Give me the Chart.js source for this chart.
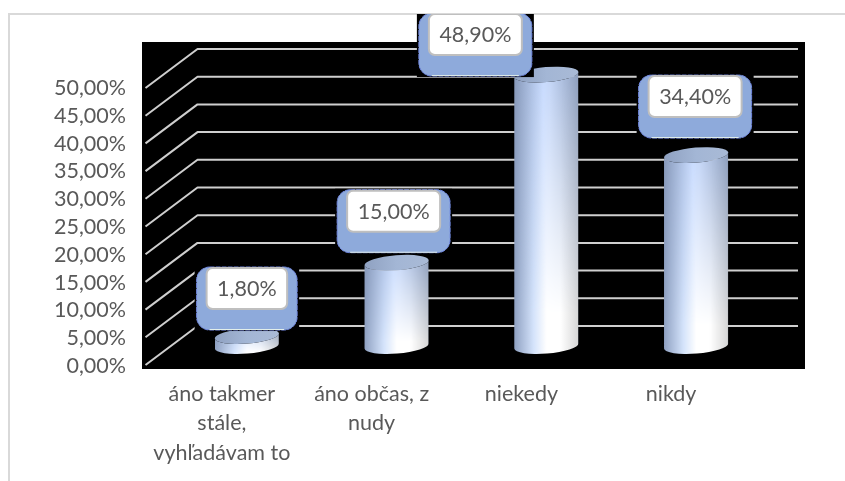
<!DOCTYPE html>
<html>
<head>
<meta charset="utf-8">
<title>Chart</title>
<script src="https://cdn.jsdelivr.net/npm/chart.js@4"></script>
<style>
  html, body { margin: 0; padding: 0; background: #fff; }
  canvas { display: block; }
</style>
</head>
<body>
<canvas id="chart" width="845" height="481"></canvas>
<script>
const categories = [['áno takmer', 'stále,', 'vyhľadávam to'], ['áno občas, z', 'nudy'], 'niekedy', 'nikdy'];
const values = [1.8, 15, 48.9, 34.4];
const tickValues = [0, 5, 10, 15, 20, 25, 30, 35, 40, 45, 50];
const tickLabels = ['0,00%', '5,00%', '10,00%', '15,00%', '20,00%', '25,00%', '30,00%', '35,00%', '40,00%', '45,00%', '50,00%'];

const FONT = 'Lato, "Open Sans", sans-serif';
const TEXT = '#595959';
const GRID = '#cfcfcf';

// callout placement relative to the top of its bar (the source chart moved them by hand)
const calloutDx = [0, -3, -71, -1];
const calloutDy = [-6, -10, 1.5, -17];

function pct(v) { return v.toFixed(2).replace('.', ',') + '%'; }

function roundRect(ctx, x, y, w, h, r) {
  ctx.beginPath();
  ctx.roundRect(x, y, w, h, r);
}

// light from below: dull blue at the top of the bar, white at the bottom
function cylinderFill(w, h) {
  const c = document.createElement('canvas');
  c.width = Math.ceil(w); c.height = Math.ceil(h);
  const g = c.getContext('2d');
  const top = g.createLinearGradient(0, 0, w, 0);
  top.addColorStop(0, '#8799ba');
  top.addColorStop(0.45, '#c6daff');
  top.addColorStop(0.55, '#c2d5f8');
  top.addColorStop(1, '#8a9cbc');
  g.fillStyle = top; g.fillRect(0, 0, w, h);

  const o = document.createElement('canvas');
  o.width = c.width; o.height = c.height;
  const og = o.getContext('2d');
  const bottom = og.createLinearGradient(0, 0, w, 0);
  bottom.addColorStop(0, '#8fa1c2');
  bottom.addColorStop(0.3, '#d4e3fb');
  bottom.addColorStop(0.5, '#ffffff');
  bottom.addColorStop(0.72, '#ffffff');
  bottom.addColorStop(1, '#d6d6d6');
  og.fillStyle = bottom; og.fillRect(0, 0, w, h);
  og.globalCompositeOperation = 'destination-in';
  const mask = og.createLinearGradient(0, 0, 0, h);
  mask.addColorStop(0, 'rgba(0,0,0,0)');
  mask.addColorStop(0.85, 'rgba(0,0,0,1)');
  mask.addColorStop(1, 'rgba(0,0,0,1)');
  og.fillStyle = mask; og.fillRect(0, 0, w, h);
  g.drawImage(o, 0, 0);
  return c;
}

function drawCylinder(ctx, bar) {
  const rx = bar.width / 2, ry = 7.5, rot = -0.08;
  ctx.save();
  ctx.beginPath();
  ctx.ellipse(bar.x, bar.base, rx, ry, rot, 0, Math.PI);
  ctx.ellipse(bar.x, bar.y, rx, ry, rot, Math.PI, 0, true);
  ctx.closePath();
  ctx.clip();
  const top = bar.y - ry - 4;
  ctx.drawImage(cylinderFill(bar.width, bar.base + ry + 4 - top), bar.x - rx, top);
  ctx.restore();

  const lid = ctx.createLinearGradient(bar.x - rx, 0, bar.x + rx, 0);
  lid.addColorStop(0, '#8fa1c1');
  lid.addColorStop(0.5, '#a3b6d5');
  lid.addColorStop(1, '#a9bad6');
  ctx.fillStyle = lid;
  ctx.beginPath();
  ctx.ellipse(bar.x, bar.y, rx, ry, rot, 0, Math.PI * 2);
  ctx.fill();
}

function drawCallout(ctx, bar, text, dx, dy) {
  ctx.save();
  ctx.font = '21.5px ' + FONT;
  const whiteW = ctx.measureText(text).width + 21;
  const cx = bar.x + dx;
  const bottom = bar.y + dy;
  const blueX = cx - whiteW / 2 - 10, blueW = whiteW + 20, blueY = bottom - 63;

  // black box behind the shape hides the gridlines, and is cut at the chart frame
  const boxTop = Math.max(blueY - 1, 14);
  ctx.fillStyle = '#000';
  ctx.fillRect(blueX - 2, boxTop, blueW + 4, bottom + 1 - boxTop);
  ctx.beginPath();
  ctx.rect(blueX - 2, boxTop, blueW + 4, bottom + 1 - boxTop);
  ctx.clip();

  roundRect(ctx, blueX, blueY, blueW, 63, 13);
  ctx.fillStyle = '#8eaadb';
  ctx.fill();
  ctx.strokeStyle = '#7086df';
  ctx.lineWidth = 1;
  ctx.setLineDash([5, 1]);
  ctx.stroke();
  ctx.setLineDash([]);
  ctx.strokeStyle = '#e4f0ea';
  ctx.beginPath();
  ctx.moveTo(blueX + 13, bottom - 0.5);
  ctx.lineTo(blueX + blueW - 13, bottom - 0.5);
  ctx.stroke();

  roundRect(ctx, cx - whiteW / 2, blueY + 1, whiteW, 41, 6);
  ctx.fillStyle = '#fff';
  ctx.fill();
  ctx.strokeStyle = '#bfbfbf';
  ctx.lineWidth = 2;
  ctx.stroke();

  ctx.fillStyle = TEXT;
  ctx.textAlign = 'center';
  ctx.textBaseline = 'middle';
  ctx.fillText(text, cx, blueY + 22);
  ctx.restore();
}

const scene = {
  id: 'scene',
  beforeDraw(chart) {
    const { ctx } = chart;
    ctx.save();
    ctx.fillStyle = '#fff';
    ctx.fillRect(0, 0, 845, 481);
    // page frame, open at right and bottom
    ctx.fillStyle = '#d9d9d9';
    ctx.fillRect(8, 13, 837, 2);
    ctx.fillRect(8, 13, 2, 468);
    ctx.fillStyle = '#000';
    ctx.fillRect(142, 42, 663, 327);
    // 3D gridlines: back wall plus the diagonal on the side wall
    ctx.strokeStyle = GRID;
    ctx.lineWidth = 2;
    ctx.lineJoin = 'round';
    tickValues.forEach(v => {
      const y = chart.scales.yBack.getPixelForValue(v);
      ctx.beginPath();
      ctx.moveTo(145.5, y + 39);
      ctx.lineTo(197.5, y);
      ctx.lineTo(798, y);
      ctx.stroke();
    });
    ctx.restore();
  },
  beforeDatasetDraw(chart, args) {
    const { ctx } = chart;
    args.meta.data.forEach(el => drawCylinder(ctx, el.getProps(['x', 'y', 'base', 'width'], true)));
    return false;
  },
  afterDatasetsDraw(chart) {
    const { ctx } = chart;
    chart.getDatasetMeta(0).data.forEach((el, i) => {
      drawCallout(ctx, el.getProps(['x', 'y'], true), pct(values[i]), calloutDx[i], calloutDy[i]);
    });
  }
};

new Chart(document.getElementById('chart'), {
  type: 'bar',
  data: {
    labels: categories,
    datasets: [{
      data: values,
      yAxisID: 'yMid',
      backgroundColor: '#a3b6d5',
      categoryPercentage: 1,
      barPercentage: 0.43
    }]
  },
  plugins: [scene],
  options: {
    responsive: false,
    animation: false,
    layout: { padding: { top: 42, right: 74, left: 0, bottom: 0 } },
    plugins: { legend: { display: false }, tooltip: { enabled: false }, title: { display: false } },
    scales: {
      x: {
        grid: { display: false, drawTicks: false },
        border: { display: false },
        afterFit(scale) { scale.height = 112; scale.paddingLeft = 0; scale.paddingRight = 0; },
        ticks: {
          color: TEXT,
          font: { family: FONT, size: 21.5, lineHeight: 1.35 },
          padding: 11,
          labelOffset: -25,
          maxRotation: 0,
          autoSkip: false
        }
      },
      // front edge of the side wall, carries the tick labels
      y: {
        min: -0.54,
        max: 58.3,
        grid: { display: false, drawTicks: false },
        border: { display: false },
        afterFit(scale) { scale.width = 172; scale.paddingTop = 0; scale.paddingBottom = 0; },
        afterBuildTicks(scale) { scale.ticks = tickValues.map(v => ({ value: v })); },
        ticks: {
          color: TEXT,
          font: { family: FONT, size: 21.5 },
          padding: 46,
          autoSkip: false,
          callback: (v) => tickLabels[tickValues.indexOf(v)]
        }
      },
      // bars stand halfway into the depth of the box
      yMid: { display: false, min: -4.14, max: 54.77 },
      // back wall of the box, carries the gridlines
      yBack: { display: false, min: -7.76, max: 51.26 }
    }
  }
});
</script>
</body>
</html>
